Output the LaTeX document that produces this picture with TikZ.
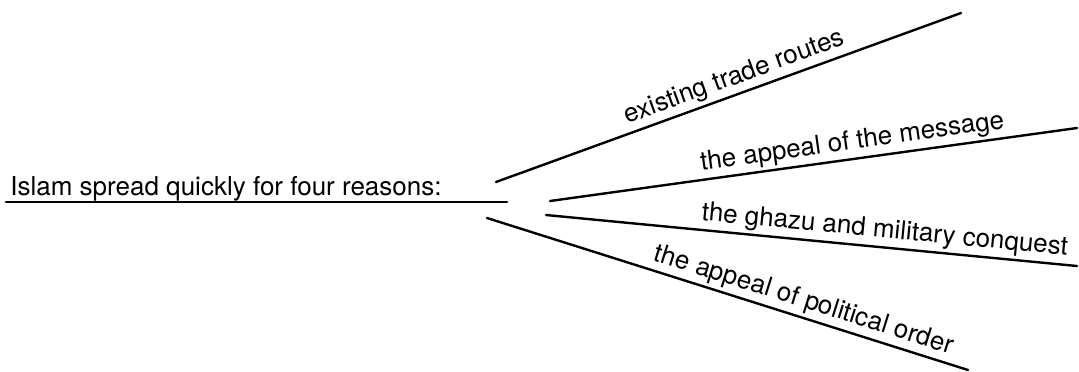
\documentclass[tikz,border=0pt]{standalone}
\usepackage{fontspec}
\setmainfont{TeX Gyre Heros}
\begin{document}
\begin{tikzpicture}[x=0.5pt,y=-0.5pt,
  rule/.style={line width=1.2pt, line cap=round},
  reason/.style={above=1.5pt, sloped, inner sep=0pt, font=\fontsize{13}{15}\selectfont},
  headline/.style={anchor=base west, inner sep=0pt, font=\fontsize{13}{15}\selectfont}]
  \useasboundingbox (0,0) rectangle (1079,371);

  % heading and its underline
  \node[headline] (title) at (10,195) {Islam spread quickly for four reasons:};
  \coordinate (m0) at (6,202);
  \coordinate (m1) at (507,202);
  \draw[rule] (m0) -- (m1);

  % fan of reason lines
  \coordinate (a1) at (496,182);  \coordinate (b1) at (961,13);
  \coordinate (a2) at (550,201);  \coordinate (b2) at (1077,128);
  \coordinate (a3) at (546,215);  \coordinate (b3) at (1077,266);
  \coordinate (a4) at (487,218);  \coordinate (b4) at (968,370);

  \draw[rule] (a1) -- node[reason, pos=0.525] (r1) {existing trade routes} (b1);
  \draw[rule] (a2) -- node[reason, pos=0.578] (r2) {the appeal of the message} (b2);
  \draw[rule] (a3) -- node[reason, pos=0.635] (r3) {the ghazu and military conquest} (b3);
  \draw[rule] (a4) -- node[reason, pos=0.648] (r4) {the appeal of political order} (b4);
\end{tikzpicture}
\end{document}
